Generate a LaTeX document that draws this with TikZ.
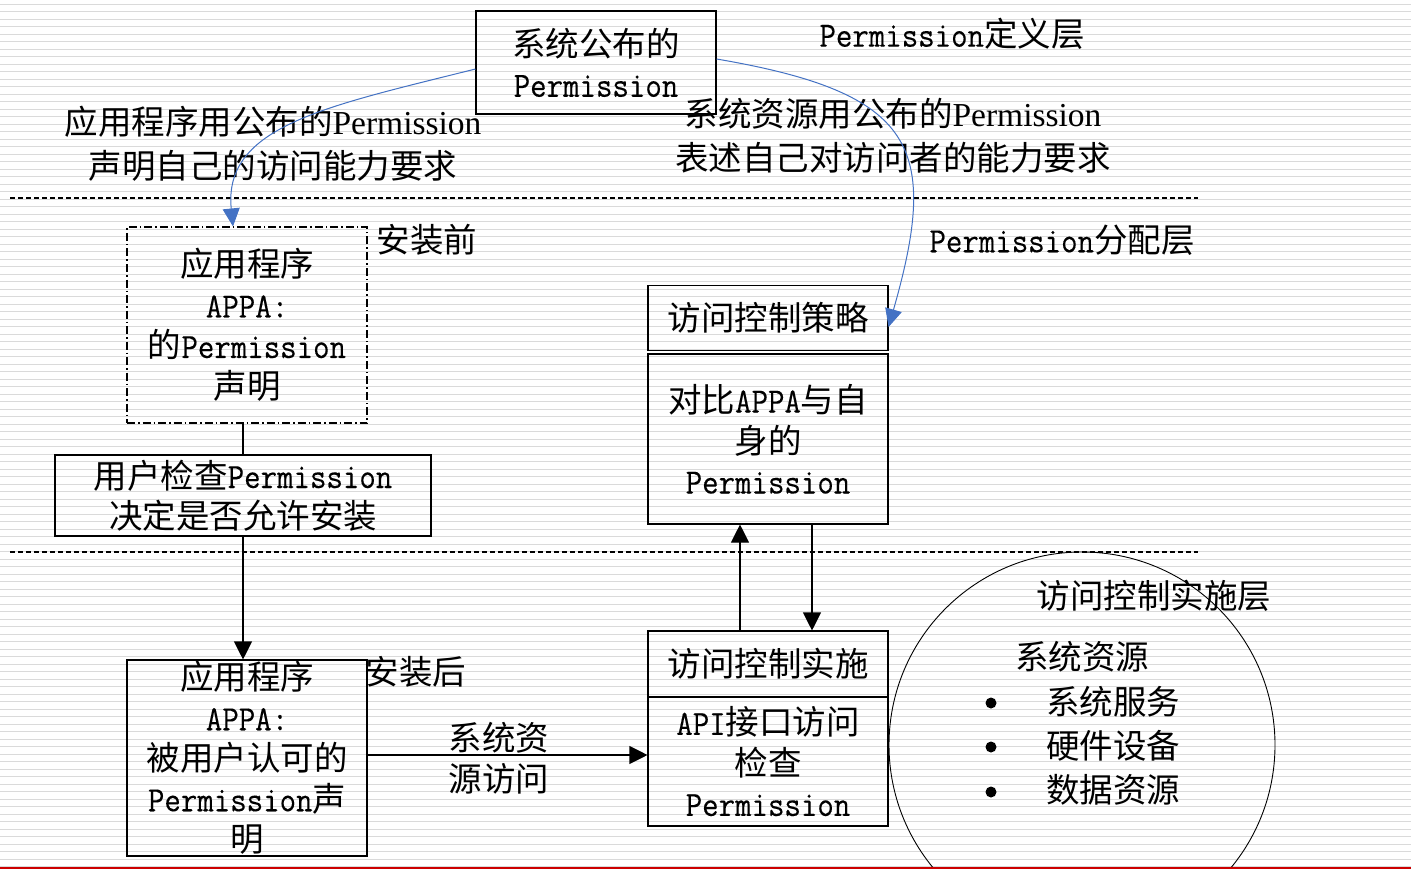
\documentclass[tikz,border=0pt]{standalone}
\usepackage{fontspec}
\setmainfont{Noto Sans CJK SC}
\setmonofont[Scale=1.06,FakeStretch=0.9,FakeBold=0.2]{Latin Modern Mono}
\newfontfamily\tms{Liberation Serif}
\newcommand{\mono}{\ttfamily}
\usetikzlibrary{arrows.meta}
\definecolor{stripegray}{RGB}{218,218,218}
\definecolor{arrowblue}{RGB}{68,114,196}
\definecolor{bottomred}{RGB}{204,0,0}
\begin{document}
\begin{tikzpicture}[x=1pt,y=-1pt,
  txt/.style={font=\fontsize{33.5}{40.5}\selectfont, inner sep=0pt, align=center},
  lbl/.style={font=\fontsize{33.5}{44}\selectfont, inner sep=0pt, align=center},
  box/.style={txt, draw, line width=1.1pt, minimum width=240pt},
  dashbox/.style={txt, draw, line width=1.1pt, minimum width=240pt,
    dash pattern=on 8pt off 3pt on 1.5pt off 3pt},
  stripe/.style={stripegray, line width=1.3pt},
  layerline/.style={line width=1.1pt, dash pattern=on 5pt off 3pt},
  bluearrow/.style={arrowblue, line width=1pt, -{Triangle[length=18pt,width=17pt]}},
  blackarrow/.style={line width=1.1pt, -{Triangle[length=18pt,width=18pt]}},
  plainline/.style={line width=1.1pt}
]
\clip (0,0) rectangle (1411,869);
\fill[white] (0,0) rectangle (1411,869);
\foreach \i in {0,...,115} \draw[stripe] (0,{4.3+7.5*\i}) -- (1411,{4.3+7.5*\i});

% layer separators
\draw[layerline] (10,198) -- (1198,198);
\draw[layerline] (10,552) -- (1198,552);

% boxes
\node[box, minimum height=103pt] (sys) at (596,62.5) {系统公布的\\{\mono Permission}};
\node[dashbox, minimum height=196pt] (pre) at (247,325) {应用程序\\{\mono APPA:}\\的{\mono Permission}\\声明};
\node[box, minimum width=376pt, minimum height=81pt] (check) at (243,495.5) {用户检查{\mono Permission}\\决定是否允许安装};
\node[box, minimum height=196pt] (post) at (247,758) {应用程序\\{\mono APPA:}\\被用户认可的\\{\mono Permission}声\\明};
\node[box, minimum height=65pt] (policy) at (768,318) {访问控制策略};
\node[box, minimum height=170pt] (cmp) at (768,439) {对比{\mono APPA}与自\\身的\\{\mono Permission}};
\node[box, minimum height=66pt] (impl) at (768,664) {访问控制实施};
\node[box, minimum height=129pt] (api) at (768,761.5) {{\mono API}接口访问\\检查\\{\mono Permission}};
\node[draw, circle, minimum size=386pt, inner sep=0pt, line width=0.9pt] (res) at (1082,745) {};

% labels
\node[lbl] (defl) at (952,34) {{\mono Permission}定义层};
\node[lbl] (appreq) at (273,144) {应用程序用公布的{\tms Permission}\\声明自己的访问能力要求};
\node[lbl] (sysreq) at (893,135.5) {系统资源用公布的{\tms Permission}\\表述自己对访问者的能力要求};
\node[lbl] (before) at (427,240) {安装前};
\node[lbl] (assl) at (1062,240) {{\mono Permission}分配层};
\node[lbl] (after) at (416,672) {安装后};
\node[txt] (flow) at (499,758) {系统资\\源访问};
\node[lbl] (enfl) at (1154,596) {访问控制实施层};
\node[lbl] (sres) at (1082,657) {系统资源};
\node[lbl, anchor=west] (it1) at (1046,702) {系统服务};
\node[lbl, anchor=west] (it2) at (1046,746) {硬件设备};
\node[lbl, anchor=west] (it3) at (1046,790) {数据资源};
\fill (991,703) circle (5.5);
\fill (991,747) circle (5.5);
\fill (991,792) circle (5.5);

% connectors
\draw[bluearrow] ([yshift=-6.5pt]sys.west) .. controls (326,106.5) and (223,126) .. ([xshift=-14pt]pre.north);
\draw[bluearrow] ([yshift=3.5pt]sys.east) .. controls (916,93) and (940,147) .. ([yshift=-9pt]policy.east);
\draw[plainline] (check.north) -- (check.north |- pre.south);
\draw[blackarrow] (check.south) -- (check.south |- post.north);
\draw[blackarrow] ([yshift=3pt]post.east) -- ([yshift=3pt]post.east -| api.west);
\draw[blackarrow] ([xshift=-28pt]impl.north) -- ([xshift=-28pt]impl.north |- cmp.south);
\draw[blackarrow] ([xshift=44pt]cmp.south) -- ([xshift=44pt]cmp.south |- impl.north);

% bottom rule
\draw[bottomred, line width=1.6pt] (0,868) -- (1411,868);
\end{tikzpicture}
\end{document}
